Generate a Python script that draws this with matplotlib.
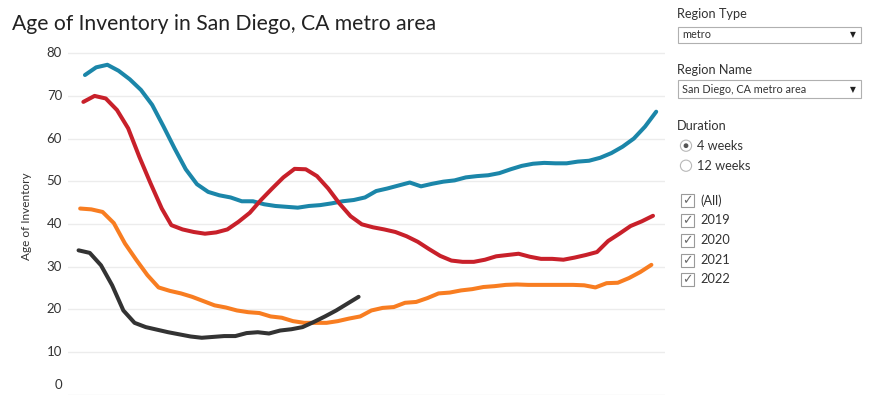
import matplotlib
matplotlib.use("Agg")
import matplotlib.pyplot as plt
import matplotlib.patches as mpatches
from matplotlib.transforms import blended_transform_factory
import pandas as pd

plt.rcParams['font.family'] = ['Lato', 'DejaVu Sans']

# ---------------- data ----------------
years = ["2019", "2020", "2021", "2022"]
start_dates = ["2019-01-06", "2020-01-05", "2021-01-03", "2022-01-02"]
colors = ["#1b86a9", "#c8202a", "#f87d21", "#333333"]

age_2019 = [74.9, 76.7, 77.3, 75.9, 73.9, 71.4, 67.9, 62.9, 57.7, 52.8,
            49.3, 47.5, 46.7, 46.2, 45.3, 45.3, 44.6, 44.2, 44.0, 43.8,
            44.2, 44.4, 44.8, 45.3, 45.6, 46.2, 47.7, 48.3, 49.0, 49.7,
            48.8, 49.4, 49.9, 50.2, 50.9, 51.2, 51.4, 51.9, 52.8, 53.6,
            54.1, 54.3, 54.2, 54.2, 54.6, 54.8, 55.5, 56.6, 58.1, 60.0,
            62.8, 66.3]
age_2020 = [68.6, 70.0, 69.4, 66.7, 62.4, 55.7, 49.5, 43.6, 39.7, 38.7,
            38.1, 37.7, 38.0, 38.7, 40.5, 42.6, 45.6, 48.3, 50.9, 52.9,
            52.8, 51.2, 48.3, 44.8, 41.8, 39.9, 39.2, 38.7, 38.1, 37.1,
            35.8, 34.1, 32.5, 31.4, 31.1, 31.1, 31.6, 32.4, 32.7, 33.0,
            32.3, 31.8, 31.8, 31.6, 32.1, 32.7, 33.4, 36.0, 37.7, 39.5,
            40.6, 41.9]
age_2021 = [43.6, 43.4, 42.8, 40.2, 35.4, 31.6, 28.0, 25.1, 24.3, 23.7,
            22.9, 21.9, 20.9, 20.4, 19.7, 19.3, 19.1, 18.3, 18.0, 17.2,
            16.8, 16.8, 16.8, 17.2, 17.8, 18.3, 19.7, 20.3, 20.5, 21.5,
            21.7, 22.6, 23.7, 23.9, 24.4, 24.7, 25.2, 25.4, 25.7, 25.8,
            25.7, 25.7, 25.7, 25.7, 25.7, 25.6, 25.1, 26.1, 26.2, 27.3,
            28.7, 30.4]
age_2022 = [33.8, 33.2, 30.3, 25.6, 19.7, 16.8, 15.8, 15.2, 14.6, 14.1,
            13.6, 13.3, 13.5, 13.7, 13.7, 14.4, 14.6, 14.3, 15.0, 15.3,
            15.8, 17.0, 18.3, 19.7, 21.3, 22.9]
series = [age_2019, age_2020, age_2021, age_2022]

y_ticks = [0, 10, 20, 30, 40, 50, 60, 70, 80]
title = "Age of Inventory in San Diego, CA metro area"
y_label = "Age of Inventory"
region_types = "metro"
region_name = "San Diego, CA metro area"
durations = ["4 weeks", "12 weeks"]
year_filters = ["(All)"] + years

# ---------------- figure ----------------
W, H = 877, 396
fig = plt.figure(figsize=(W / 100, H / 100), dpi=100)
fig.patch.set_facecolor("white")

def ax_rect(left, top, right, bottom):
    return [left / W, 1 - bottom / H, (right - left) / W, (bottom - top) / H]

ax = fig.add_axes(ax_rect(68, 49.0, 665, 394.5))
ax.set_xlim(-4.6, 368.5)
ax.set_ylim(0, 81)
for s in ax.spines.values():
    s.set_visible(False)
ax.set_xticks([])
ax.set_yticks(y_ticks)
ax.tick_params(axis="y", length=0, labelleft=False)
ax.grid(axis="y", color="#ececec", linewidth=1.0)
ax.set_axisbelow(True)

for start, vals, col in zip(start_dates, series, colors):
    d = pd.date_range(start, periods=len(vals), freq="7D")
    x = d.dayofyear - ((d.is_leap_year) & (d.month > 2)).astype(int)
    ax.plot(x, vals, color=col, linewidth=2.9, solid_joinstyle="round",
            solid_capstyle="round")

tr = blended_transform_factory(ax.transAxes, ax.transData)
for v in y_ticks:
    ax.text(-6 / 597, v + (2.2 if v == 0 else 0), str(v), transform=tr,
            ha="right", va="center", fontsize=9.5, color="#333333")

# pixel helpers (inches transform keeps circles round)
T = fig.dpi_scale_trans
def P(px, py):
    return px / 100, (H - py) / 100

fig.text(*P(12, 24), title, transform=T, fontsize=15.2, color="#222222",
         ha="left", va="center")
fig.text(*P(27, 216), y_label, transform=T, fontsize=8.5, color="#333333",
         rotation=90, ha="center", va="center")

txtc = "#333333"
def label(px, py, s, fs=9, **kw):
    fig.text(*P(px, py), s, transform=T, fontsize=fs, color=txtc,
             ha="left", va="center", **kw)

def dropdown(top, bottom, s):
    x0, x1 = 678, 861
    r = mpatches.Rectangle(P(x0, bottom), (x1 - x0) / 100, (bottom - top) / 100,
                           transform=T, facecolor="white", edgecolor="#b0b0b0",
                           linewidth=0.8)
    fig.patches.append(r)
    label(682, (top + bottom) / 2, s, fs=7.8)
    fig.text(*P(853, (top + bottom) / 2), "\u25BC", transform=T, fontsize=5.5,
             color="#222222", ha="center", va="center",
             family=["DejaVu Sans"])

label(677, 14, "Region Type", fs=9.2)
dropdown(26.7, 42.7, region_types)
label(677, 70, "Region Name", fs=9.2)
dropdown(80, 98.3, region_name)
label(677, 126, "Duration", fs=9.2)

for i, (s, cy) in enumerate(zip(durations, [145.7, 165.7])):
    c = mpatches.Circle(P(686, cy), 5.6 / 100, transform=T, facecolor="white",
                        edgecolor="#b8b8b8", linewidth=0.8)
    fig.patches.append(c)
    if i == 0:
        fig.patches.append(mpatches.Circle(P(686, cy), 2.4 / 100, transform=T,
                                           facecolor="#555555", edgecolor="none"))
    label(697, cy, s, fs=9.2)

for s, cy in zip(year_filters, [200.3, 220, 240, 260, 279.3]):
    r = mpatches.Rectangle(P(681, cy + 6.5), 13 / 100, 13 / 100, transform=T,
                           facecolor="white", edgecolor="#9a9a9a", linewidth=0.8)
    fig.patches.append(r)
    fig.text(*P(687.5, cy + 0.5), "\u2713", transform=T, fontsize=9, color="#6a6a6a",
             ha="center", va="center", family=["DejaVu Sans"])
    label(700.5, cy, s, fs=9.2)

fig.savefig("out.png", dpi=100, facecolor="white")
